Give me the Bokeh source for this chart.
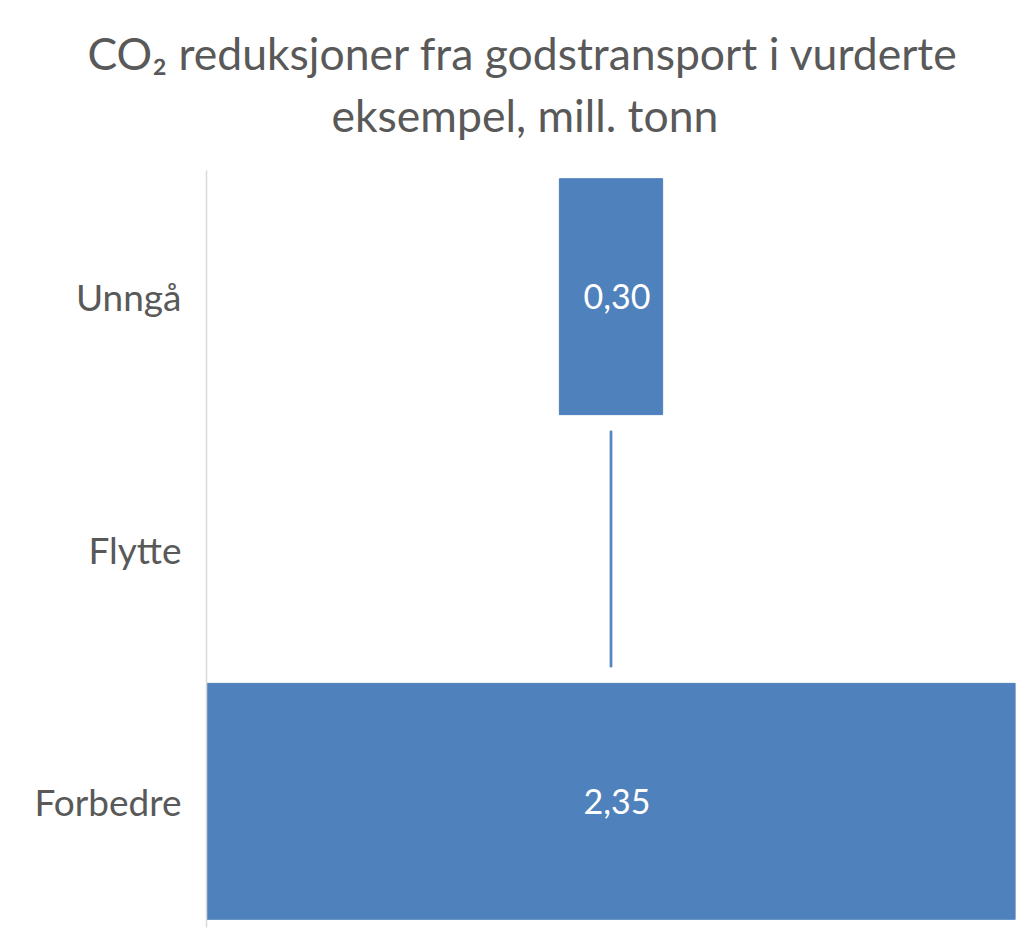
from bokeh.plotting import figure
from bokeh.models import FactorRange, Range1d, Title, ColumnDataSource
from bokeh.embed import file_html
from bokeh.resources import INLINE
from bokeh.core.properties import value

categories = ["Unngå", "Flytte", "Forbedre"]
values = [0.30, 0.005, 2.35]
labels = ["0,30", "", "2,35"]
title_lines = ["CO₂ reduksjoner fra godstransport i vurderte", "eksempel, mill. tonn"]

FONT = "Lato"
BAR = "#4F81BD"
GREY = "#595959"

factors = list(reversed(categories))
half = [v / 2 for v in values]
src = ColumnDataSource(dict(
    cat=categories,
    left=[-h for h in half],
    right=half,
    lab=labels,
    zero=[0 for _ in values],
))

p = figure(width=1023, height=939, output_backend="svg", toolbar_location=None,
           y_range=FactorRange(factors=factors, range_padding=0),
           x_range=Range1d(-max(values) / 2, max(values) / 2),
           min_border_left=206, min_border_right=8, min_border_top=170, min_border_bottom=12)

# outer title line
p.title.text = title_lines[0]
p.title.align = "left"
p.title.offset = -119
p.title.standoff = 10
p.title.text_font = FONT
p.title.text_font_size = "44.5px"
p.title.text_font_style = "normal"
p.title.text_color = GREY
# spacer between title and plot area (innermost)
p.add_layout(Title(text=" ", standoff=25, text_font_size="1px"), "above")
# inner title line
p.add_layout(Title(text=title_lines[1], align="left", offset=125, standoff=4,
                   text_font=FONT, text_font_size="44.5px", text_font_style="normal",
                   text_color=GREY), "above")

p.hbar(y="cat", left="left", right="right", height=0.935, source=src,
       fill_color=BAR, line_color=BAR, line_width=1)
p.text(x="zero", y="cat", text="lab", source=src, text_color="white",
       text_font=value(FONT), text_font_size="34px", text_align="center",
       text_baseline="middle", x_offset=6)

p.xaxis.visible = False
p.xgrid.visible = False
p.ygrid.visible = False
p.outline_line_color = None
ax = p.yaxis[0]
ax.axis_line_color = "#d9d9d9"
ax.axis_line_width = 1.5
ax.major_tick_line_color = None
ax.minor_tick_line_color = None
ax.major_label_text_font = FONT
ax.major_label_text_font_size = "37px"
ax.major_label_text_color = GREY
ax.major_label_standoff = 19

open("out.html", "w").write(file_html(p, INLINE))
